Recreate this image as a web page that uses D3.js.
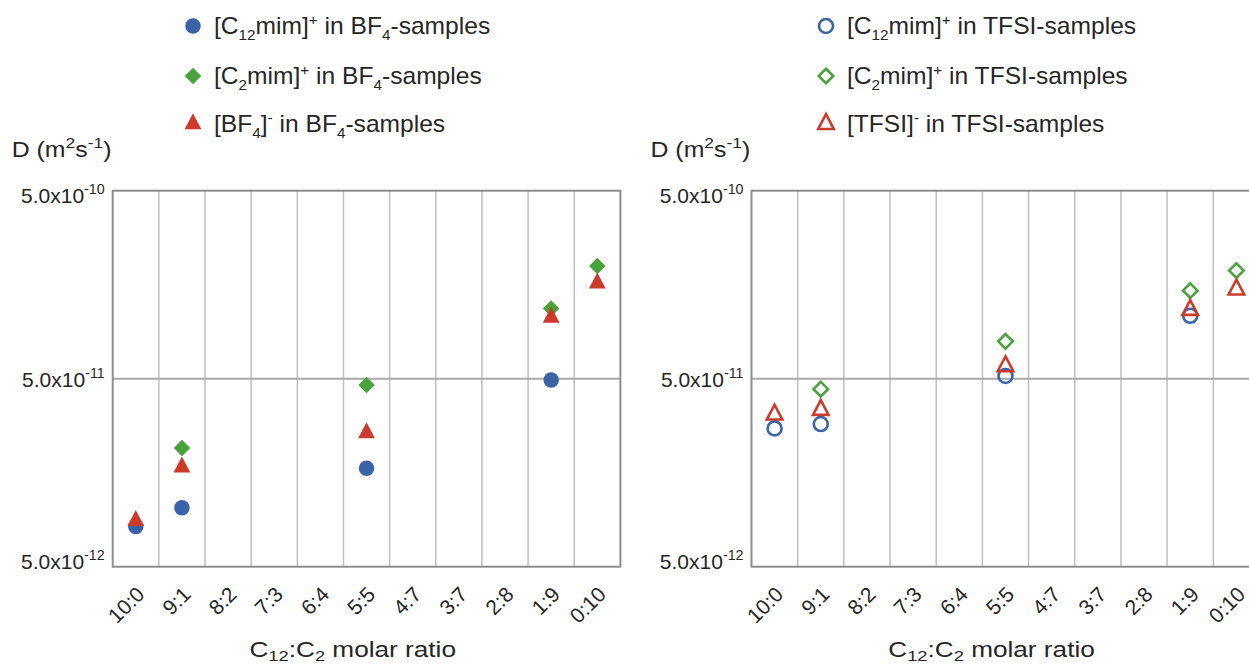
<!DOCTYPE html>
<html><head><meta charset="utf-8">
<script src="https://cdn.jsdelivr.net/npm/d3@7"></script>
<style>
body{margin:0;background:#fff}
svg{display:block;font-family:"Liberation Sans",Arial,Helvetica,sans-serif}
</style>
</head><body>
<svg id="c" width="1249" height="666"></svg>
<script>
// ---------- data ----------
const categories = ["10:0","9:1","8:2","7:3","6:4","5:5","4:7","3:7","2:8","1:9","0:10"];
const sampled = ["10:0","9:1","5:5","1:9","0:10"];
// BF4 samples (left panel), m^2 s^-1
const bf4C12   = [8.17e-12, 1.03e-11, 1.67e-11, 4.92e-11, null];
const bf4C2    = [null,     2.14e-11, 4.63e-11, 1.18e-10, 1.99e-10];
const bf4Anion = [8.8e-12,  1.69e-11, 2.57e-11, 1.06e-10, 1.61e-10];
// TFSI samples (right panel)
const tfsiC12   = [2.72e-11, 2.87e-11, 5.17e-11, 1.08e-10, null];
const tfsiC2    = [null,     4.4e-11,  7.9e-11,  1.47e-10, 1.88e-10];
const tfsiAnion = [3.22e-11, 3.41e-11, 5.82e-11, 1.16e-10, 1.49e-10];
const yTicks = [5e-12, 5e-11, 5e-10];

// legend labels as rich-text parts
const lgC12BF4  = [{t:"[C"},{t:"12",sub:1},{t:"mim]"},{t:"+",sup:1},{t:" in BF"},{t:"4",sub:1},{t:"-samples"}];
const lgC2BF4   = [{t:"[C"},{t:"2",sub:1},{t:"mim]"},{t:"+",sup:1},{t:" in BF"},{t:"4",sub:1},{t:"-samples"}];
const lgBF4     = [{t:"[BF"},{t:"4",sub:1},{t:"]"},{t:"-",sup:1},{t:" in BF"},{t:"4",sub:1},{t:"-samples"}];
const lgC12TFSI = [{t:"[C"},{t:"12",sub:1},{t:"mim]"},{t:"+",sup:1},{t:" in TFSI-samples"}];
const lgC2TFSI  = [{t:"[C"},{t:"2",sub:1},{t:"mim]"},{t:"+",sup:1},{t:" in TFSI-samples"}];
const lgTFSI    = [{t:"[TFSI]"},{t:"-",sup:1},{t:" in TFSI-samples"}];
const yTitle = [{t:"D (m"},{t:"2",sup:1},{t:"s"},{t:"-1",sup:1},{t:")"}];
const xTitle = [{t:"C"},{t:"12",sub:1},{t:":C"},{t:"2",sub:1},{t:" molar ratio"}];

// ---------- styling ----------
const BLUE="#3b63a7", GREEN="#4aa23d", RED="#cc3a2c";
const TXT="#262626";
const svg = d3.select("#c");
const Y0 = 190.7, Y1 = 566.7;
const y = d3.scaleLog().domain([5e-12,5e-10]).range([Y1,Y0]);

const symCirc = {draw(ctx,s){const r=s/2;ctx.moveTo(r,0);ctx.arc(0,0,r,0,2*Math.PI);}};
const symDia  = {draw(ctx,s){const r=s/2;ctx.moveTo(0,-r);ctx.lineTo(r,0);ctx.lineTo(0,r);ctx.lineTo(-r,0);ctx.closePath();}};
const symTri  = {draw(ctx,s){const h=s,w=s*1.05;ctx.moveTo(0,-2*h/3);ctx.lineTo(w/2,h/3);ctx.lineTo(-w/2,h/3);ctx.closePath();}};

// rich text: parts with sub/sup; baseDy shifts the baseline of the whole line
function rich(sel, parts, size, baseDy=0, small=0.68, subShift=0.25){
  sel.text(null);
  let shift=0, first=true;
  parts.forEach(p=>{
    const target = p.sub ? size*subShift : p.sup ? -size*0.4 : 0;
    const ts = sel.append("tspan").text(p.t).attr("dy", target-shift+(first?baseDy:0));
    if(p.sub||p.sup) ts.attr("font-size", size*small);
    shift = target; first=false;
  });
}
// place a text at (x,y) with horizontal stretch sx
function stretched(g, x, yy, sx){
  return g.append("text").attr("transform",`translate(${x},${yy}) scale(${sx},1)`);
}

const filled = {circle:[symCirc,15.5], diamond:[symDia,16.5], triangle:[symTri,16]};
const open   = {circle:[symCirc,14.0], diamond:[symDia,14.5], triangle:[symTri,14.8]};

const panels = [
  {x0:112.7, x1:620.4, legX:193, filled:true,
   series:[{v:bf4C12,shape:"circle",color:BLUE,label:lgC12BF4},
           {v:bf4C2,shape:"diamond",color:GREEN,label:lgC2BF4},
           {v:bf4Anion,shape:"triangle",color:RED,label:lgBF4}]},
  {x0:751.5, x1:1259.5, legX:826, filled:false,
   series:[{v:tfsiC12,shape:"circle",color:BLUE,label:lgC12TFSI},
           {v:tfsiC2,shape:"diamond",color:GREEN,label:lgC2TFSI},
           {v:tfsiAnion,shape:"triangle",color:RED,label:lgTFSI}]}
];

function drawMarker(g, shape, isFilled, color, cx, cy){
  const [type,size] = (isFilled?filled:open)[shape];
  const p = g.append("path").attr("d", d3.symbol(type,size)())
    .attr("transform",`translate(${cx},${cy})`);
  if(isFilled) p.attr("fill",color);
  else p.attr("fill","none").attr("stroke",color).attr("stroke-width",2.6);
}

const tickDy = [1.5, 7.5, 11.5]; // baseline offsets of the y tick labels (bottom, mid, top)

panels.forEach(P=>{
  const g = svg.append("g");
  const x = d3.scaleBand().domain(categories).range([P.x0,P.x1]).padding(0);

  // vertical gridlines at band boundaries
  g.selectAll(".vg").data(categories.slice(1)).join("line")
    .attr("x1",d=>x(d)).attr("x2",d=>x(d)).attr("y1",Y0).attr("y2",Y1)
    .attr("stroke","#c0c0c0").attr("stroke-width",1.5);
  // horizontal gridlines at inner ticks
  g.selectAll(".hg").data(yTicks.slice(1,-1)).join("line")
    .attr("x1",P.x0).attr("x2",P.x1).attr("y1",d=>y(d)).attr("y2",d=>y(d))
    .attr("stroke","#a9a9a9").attr("stroke-width",2);
  // frame
  g.append("rect").attr("x",P.x0).attr("y",Y0).attr("width",P.x1-P.x0).attr("height",Y1-Y0)
    .attr("fill","none").attr("stroke","#8e8e8e").attr("stroke-width",2);

  // y axis labels
  const ya = g.append("g").attr("transform",`translate(${P.x0},0)`)
    .call(d3.axisLeft(y).tickValues(yTicks).tickSize(0).tickPadding(8));
  ya.select(".domain").remove();
  ya.selectAll("text").attr("font-size",21).attr("fill",TXT).attr("font-family",null)
    .attr("dy",null)
    .each(function(d,i){
      const e = Math.round(Math.log10(d/5));
      rich(d3.select(this), [{t:"5.0x10"},{t:String(e),sup:1}], 21, tickDy[i], 0.68);
    });

  // x axis labels
  const xa = g.append("g").attr("transform",`translate(0,${Y1})`)
    .call(d3.axisBottom(x).tickSize(0));
  xa.select(".domain").remove();
  xa.selectAll("text").attr("font-size",21).attr("fill",TXT).attr("font-family",null)
    .attr("x",0).attr("y",0).attr("dy",0).attr("text-anchor","end")
    .attr("transform","translate(10,29) rotate(-45)");

  // x title
  stretched(g, P.x0+240, 657, 1.19).attr("text-anchor","middle")
    .attr("font-size",22).attr("fill",TXT).call(s=>rich(s,xTitle,22,0,0.7,0.18));
  // y title
  stretched(g, P.x0-101, 157, 1.13).attr("font-size",22).attr("fill",TXT)
    .call(s=>rich(s,yTitle,22,0,0.7));

  // markers (circle, diamond, triangle order)
  P.series.forEach(S=>{
    sampled.forEach((c,i)=>{
      if(S.v[i]==null) return;
      drawMarker(g, S.shape, P.filled, S.color, x(c)+x.bandwidth()/2, y(S.v[i]));
    });
  });

  // legend
  const legY = [26,76,124];
  P.series.forEach((S,i)=>{
    drawMarker(g, S.shape, P.filled, S.color, P.legX, legY[i]);
    stretched(g, P.legX+21, legY[i]+8, 1.07).attr("font-size",23).attr("fill",TXT)
      .call(s=>rich(s,S.label,23,0,0.62));
  });
});
</script>
</body></html>
